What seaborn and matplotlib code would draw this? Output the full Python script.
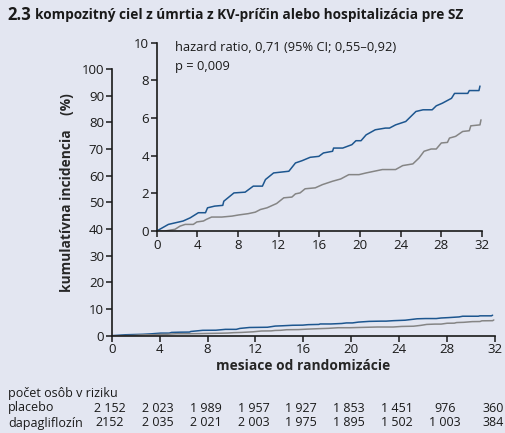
import numpy as np
import pandas as pd
import matplotlib
matplotlib.use("Agg")
import matplotlib.pyplot as plt
import matplotlib.transforms as mtransforms
import seaborn as sns

# ---- data ----
blue_t = [0, 1.15, 2.6, 3.3, 4.1, 4.8, 5.0, 5.7, 6.5, 6.6, 7.6, 8.7, 9.5, 10.4, 10.7, 11.5,
          13.0, 13.65, 14.3, 15.1, 15.95, 16.4, 17.3, 17.4, 18.3, 19.2, 19.6, 20.1, 20.6,
          21.5, 22.5, 22.9, 23.5, 24.5, 25.5, 26.2, 27.1, 27.5, 28.1, 29.0, 29.3, 30.6,
          30.75, 31.7, 31.8]
blue_v = [0, 0.35, 0.53, 0.7, 0.97, 0.97, 1.23, 1.32, 1.36, 1.58, 2.02, 2.06, 2.38, 2.38,
          2.73, 3.08, 3.17, 3.61, 3.73, 3.91, 3.96, 4.14, 4.23, 4.40, 4.40, 4.58, 4.79, 4.79,
          5.1, 5.37, 5.46, 5.46, 5.63, 5.81, 6.34, 6.43, 6.43, 6.64, 6.78, 7.04, 7.3, 7.3,
          7.45, 7.45, 7.69]
gray_t = [0, 0.8, 1.8, 2.3, 2.8, 3.6, 3.95, 4.6, 4.9, 5.4, 6.4, 7.4, 8.05, 9.0, 9.7, 10.2,
          10.85, 11.8, 12.5, 13.3, 13.65, 14.1, 14.6, 15.6, 16.3, 17.3, 18.1, 18.9, 19.9,
          20.6, 21.4, 22.2, 23.5, 24.2, 25.2, 25.8, 26.3, 27.0, 27.5, 28.0, 28.6, 28.8,
          29.4, 30.1, 30.75, 30.9, 31.8, 31.9]
gray_v = [0, 0, 0.09, 0.26, 0.35, 0.35, 0.48, 0.53, 0.62, 0.74, 0.74, 0.79, 0.85, 0.92, 1.0,
          1.14, 1.23, 1.46, 1.76, 1.80, 1.97, 2.02, 2.24, 2.29, 2.46, 2.64, 2.76, 2.99, 2.99,
          3.08, 3.17, 3.26, 3.26, 3.47, 3.56, 3.87, 4.23, 4.35, 4.35, 4.67, 4.70, 4.93, 5.02,
          5.28, 5.32, 5.58, 5.63, 5.9]

risk_months = [0, 4, 8, 12, 16, 20, 24, 28, 32]
risk_placebo = ["2 152", "2 023", "1 989", "1 957", "1 927", "1 853", "1 451", "976", "360"]
risk_dapa = ["2152", "2 035", "2 021", "2 003", "1 975", "1 895", "1 502", "1 003", "384"]

main_yticks = list(range(0, 101, 10))
inset_yticks = list(range(0, 11, 2))
xticks = list(range(0, 33, 4))

BG = "#e3e6f1"
BLUE = "#1d568f"
GRAY = "#858585"
DARK = "#1a1a1a"

df = pd.concat([
    pd.DataFrame({"t": blue_t, "v": blue_v, "g": "placebo"}),
    pd.DataFrame({"t": gray_t, "v": gray_v, "g": "dapagliflozín"}),
], ignore_index=True)

sns.set_theme(style="ticks")
plt.rcParams["font.family"] = ["Open Sans", "DejaVu Sans"]
plt.rcParams["axes.edgecolor"] = DARK
plt.rcParams["xtick.color"] = DARK
plt.rcParams["ytick.color"] = DARK
plt.rcParams["text.color"] = DARK

fig = plt.figure(figsize=(5.05, 4.33), dpi=100, facecolor=BG)

W, H = 505, 433
def fx(px): return px / W
def fy(py): return 1 - py / H

pal = {"placebo": BLUE, "dapagliflozín": GRAY}
TICK_FS = 9.5

# main axes
ax = fig.add_axes([fx(111.7), fy(335.7), fx(495) - fx(111.7), fy(69) - fy(335.7)])
ax.set_facecolor(BG)
sns.lineplot(data=df, x="t", y="v", hue="g", palette=pal,
             ax=ax, legend=False, linewidth=1.1, estimator=None, sort=False)
ax.set_xlim(0, 32)
ax.set_ylim(0, 100)
ax.set_xticks(xticks)
ax.set_yticks(main_yticks)
for s in ["top", "right"]:
    ax.spines[s].set_visible(False)
for s in ["left", "bottom"]:
    ax.spines[s].set_linewidth(1.2)
ax.tick_params(axis="both", length=4, width=1.1, labelsize=TICK_FS, pad=1.5)
ax.set_xlabel("mesiace od randomizácie", fontsize=9.9, fontweight="bold", labelpad=2)
ax.set_ylabel("kumulatívna incidencia    (%)", fontsize=9.9, fontweight="bold", labelpad=5)
ax.yaxis.set_label_coords(-0.098, 0.535)
ax.patch.set_alpha(0)

# inset axes
ins = fig.add_axes([fx(156.7), fy(231), fx(482) - fx(156.7), fy(42.5) - fy(231)])
ins.set_facecolor(BG)
sns.lineplot(data=df, x="t", y="v", hue="g", palette=pal,
             ax=ins, legend=False, linewidth=1.1, estimator=None, sort=False)
ins.set_xlim(0, 32)
ins.set_ylim(0, 10)
ins.set_xticks(xticks)
ins.set_yticks(inset_yticks)
for s in ["top", "right"]:
    ins.spines[s].set_visible(False)
for s in ["left", "bottom"]:
    ins.spines[s].set_linewidth(1.2)
ins.tick_params(axis="both", length=4, width=1.1, labelsize=TICK_FS, pad=1.5)
ins.set_xlabel("")
ins.set_ylabel("")
ins.text(1.8, 9.75, "hazard ratio, 0,71 (95% CI; 0,55–0,92)", fontsize=9.25, va="center", ha="left")
ins.text(1.8, 8.75, "p = 0,009", fontsize=9.25, va="center", ha="left")

# title
fig.text(fx(7), fy(15.5), "2.3", fontsize=12, fontweight="bold", va="center", ha="left")
fig.text(fx(35), fy(15.5), "kompozitný ciel z úmrtia z KV-príčin alebo hospitalizácia pre SZ",
         fontsize=9.8, fontweight="bold", va="center", ha="left")

# risk table
RFS = 9.0
fig.text(fx(8), fy(393), "počet osôb v riziku", fontsize=RFS, va="center", ha="left")
fig.text(fx(8), fy(408), "placebo", fontsize=RFS, va="center", ha="left")
fig.text(fx(8), fy(423), "dapagliflozín", fontsize=RFS, va="center", ha="left")
trans = mtransforms.blended_transform_factory(ax.transData, fig.transFigure)
off = mtransforms.ScaledTranslation(-2 / 100, 0, fig.dpi_scale_trans)
for m, p, d in zip(risk_months, risk_placebo, risk_dapa):
    fig.text(m, fy(408), p, fontsize=RFS, va="center", ha="center", transform=trans + off)
    fig.text(m, fy(423), d, fontsize=RFS, va="center", ha="center", transform=trans + off)

fig.savefig("out.png", dpi=100, facecolor=BG)
